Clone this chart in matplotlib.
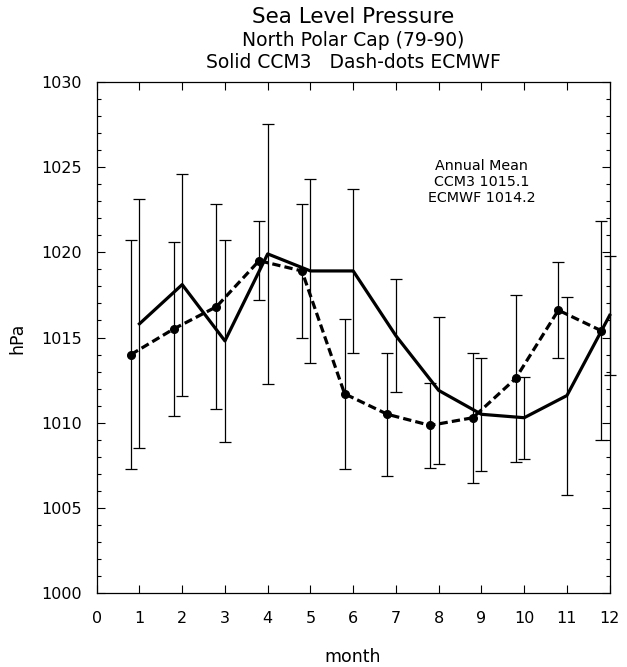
import matplotlib.pyplot as plt
import numpy as np

months = np.arange(1, 13)

# CCM3 monthly sea level pressure (hPa) and spread
ccm3_slp = [1015.8, 1018.1, 1014.8, 1019.9, 1018.9, 1018.9,
            1015.1, 1011.9, 1010.5, 1010.3, 1011.6, 1016.3]
ccm3_err = [7.3, 6.5, 5.9, 7.6, 5.4, 4.8, 3.3, 4.3, 3.3, 2.4, 5.8, 3.5]

# ECMWF analysis, same months
ecmwf_slp = [1014.0, 1015.5, 1016.8, 1019.5, 1018.9, 1011.7,
             1010.5, 1009.85, 1010.3, 1012.6, 1016.6, 1015.4]
ecmwf_err = [6.7, 5.1, 6.0, 2.3, 3.9, 4.4, 3.6, 2.5, 3.8, 4.9, 2.8, 6.4]

ccm3_annual = 1015.1
ecmwf_annual = 1014.2

xticks = np.arange(0, 13)
yticks = np.arange(1000, 1031, 5)

fig = plt.figure(figsize=(6.27, 6.67), dpi=100)
ax = fig.add_axes([0.1542, 0.1102, 0.8182, 0.7676])

# CCM3: solid line, bars centred on the month
ax.errorbar(months, ccm3_slp, yerr=ccm3_err, color='black', lw=2.3,
            elinewidth=0.9, capsize=4.5, capthick=0.9, clip_on=False,
            zorder=3)

# ECMWF: dashed line with dots, shifted slightly left
ax.errorbar(months - 0.2, ecmwf_slp, yerr=ecmwf_err, color='black', lw=2.3,
            ls=(0, (2.6, 1.3)), marker='o', ms=5.5,
            elinewidth=0.9, capsize=4.5, capthick=0.9, clip_on=False,
            zorder=3)

ax.set_xlim(0, 12)
ax.set_ylim(1000, 1030)
ax.set_xticks(xticks)
ax.set_yticks(yticks)
ax.set_yticks(np.arange(1000, 1031, 1), minor=True)
ax.tick_params(axis='both', which='both', direction='in', top=True,
               right=True, width=0.8, labelsize=11.5)
ax.tick_params(axis='both', which='major', length=6)
ax.tick_params(axis='y', which='minor', length=3)
ax.tick_params(axis='x', pad=12.6)
ax.tick_params(axis='y', pad=10.8)
for sp in ax.spines.values():
    sp.set_linewidth(0.9)

ax.text(9.0, 1024.1,
        'Annual Mean\nCCM3 %.1f\nECMWF %.1f' % (ccm3_annual, ecmwf_annual),
        ha='center', va='center', multialignment='center', fontsize=10.3,
        linespacing=1.2)

fig.text(0.563, 0.9745, 'Sea Level Pressure', ha='center', va='center',
         fontsize=15.5)
fig.text(0.563, 0.940, 'North Polar Cap (79-90)', ha='center', va='center',
         fontsize=13.5)
fig.text(0.563, 0.907, 'Solid CCM3   Dash-dots ECMWF', ha='center',
         va='center', fontsize=13.5)

fig.text(0.563, 0.015, 'month', ha='center', va='center', fontsize=12.5)
fig.text(0.027, 0.493, 'hPa', ha='center', va='center', rotation=90,
         fontsize=12.5)

fig.savefig('out.png', dpi=100)
